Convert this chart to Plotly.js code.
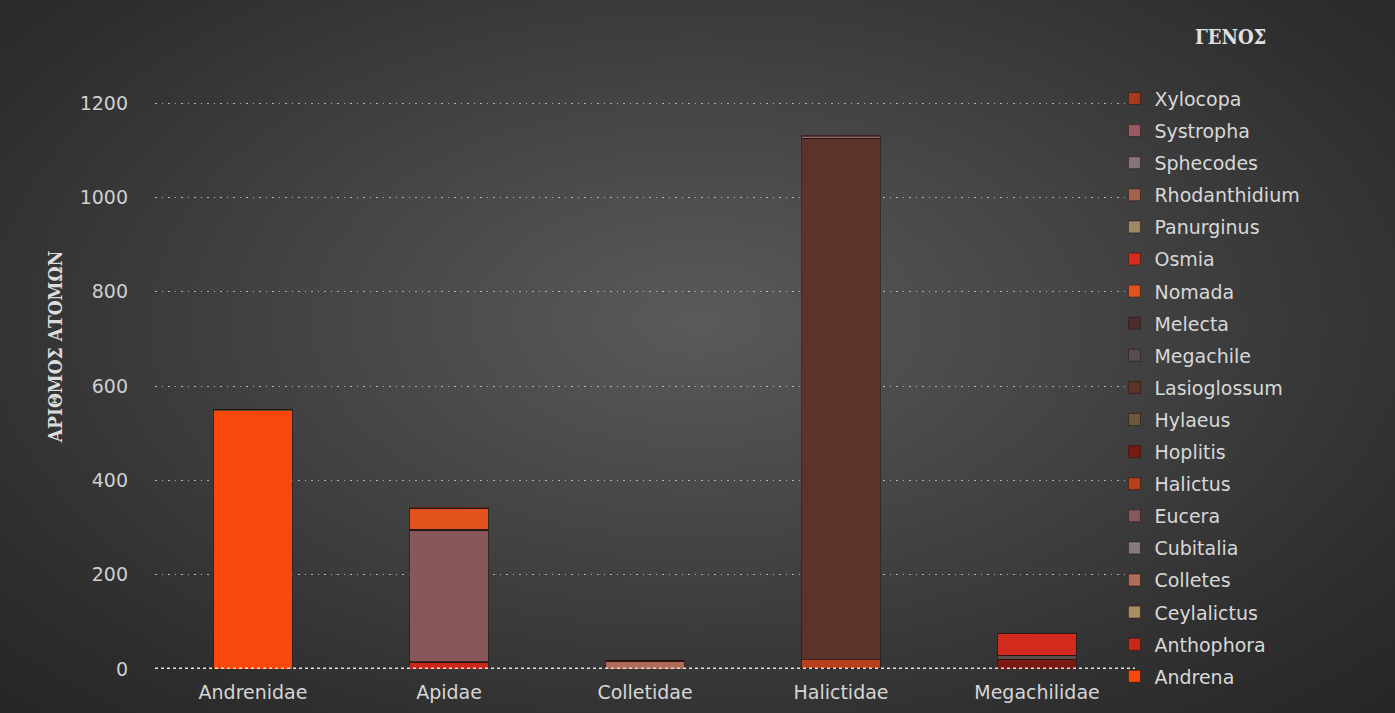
<!DOCTYPE html>
<html>
<head>
<meta charset="utf-8">
<script src="https://cdn.plot.ly/plotly-3.0.1.min.js"></script>
<style>
html,body{margin:0;padding:0;}
#chart{width:1395px;height:713px;background:radial-gradient(ellipse at 50% 45%, #5a5a5a 0%, #444 40%, #2e2e2e 80%, #262626 100%);}
</style>
</head>
<body>
<div id="chart"></div>
<script>
const families = ["Andrenidae","Apidae","Colletidae","Halictidae","Megachilidae"];

const genera = ["Andrena","Anthophora","Ceylalictus","Colletes","Cubitalia","Eucera","Halictus","Hoplitis","Hylaeus","Lasioglossum","Megachile","Melecta","Nomada","Osmia","Panurginus","Rhodanthidium","Sphecodes","Systropha","Xylocopa"];

// values per family: Andrenidae, Apidae, Colletidae, Halictidae, Megachilidae
const Andrena       = [548, 0, 0, 0, 0];
const Anthophora    = [0, 14, 0, 0, 0];
const Ceylalictus   = [0, 0, 0, 2, 0];
const Colletes      = [0, 0, 16, 0, 0];
const Cubitalia     = [0, 2, 0, 0, 0];
const Eucera        = [0, 278, 0, 0, 0];
const Halictus      = [0, 0, 0, 18, 0];
const Hoplitis      = [0, 0, 0, 0, 21];
const Hylaeus       = [0, 0, 3, 0, 0];
const Lasioglossum  = [0, 0, 0, 1106, 0];
const Megachile     = [0, 0, 0, 0, 8];
const Melecta       = [0, 2, 0, 0, 0];
const Nomada        = [0, 45, 0, 0, 0];
const Osmia         = [0, 0, 0, 0, 46];
const Panurginus    = [2, 0, 0, 0, 0];
const Rhodanthidium = [0, 0, 0, 0, 1];
const Sphecodes     = [0, 0, 0, 3, 0];
const Systropha     = [0, 0, 0, 3, 0];
const Xylocopa      = [0, 2, 0, 0, 0];

const values = [Andrena,Anthophora,Ceylalictus,Colletes,Cubitalia,Eucera,Halictus,Hoplitis,Hylaeus,Lasioglossum,Megachile,Melecta,Nomada,Osmia,Panurginus,Rhodanthidium,Sphecodes,Systropha,Xylocopa];

const colors = ["#f8480c","#c8281c","#a68e62","#b06c5a","#877a7e","#875759","#b5401b","#7a1812","#6b5a3a","#5b3328","#5a4b4e","#4d2d2b","#e0531d","#d32b1e","#9c8a66","#a3634f","#857478","#9a5a62","#a63a1e"];

const traces = genera.map((g, i) => ({
  type: 'bar',
  name: g,
  x: families,
  y: values[i],
  legendgroup: g,
  legendrank: 1000 - i,
  marker: {color: colors[i], line: {color: 'rgba(40,20,15,0.55)', width: 1}},
  hoverinfo: 'x+y+name'
}));

const layout = {
  width: 1395, height: 713,
  paper_bgcolor: 'rgba(0,0,0,0)',
  plot_bgcolor: 'rgba(0,0,0,0)',
  barmode: 'stack',
  bargap: 0.6,
  margin: {l: 155, r: 260, t: 56, b: 44},
  font: {family: 'DejaVu Sans, sans-serif', color: '#d0d0d0'},
  xaxis: {
    showgrid: false, zeroline: false, showline: false,
    tickfont: {size: 19, color: '#d6d6d6'},
    ticks: '', ticklabelstandoff: 10
  },
  yaxis: {
    range: [0, 1300],
    tickvals: [0,200,400,600,800,1000,1200],
    tickfont: {size: 19, color: '#cfcfcf'},
    showgrid: true, gridcolor: 'rgba(210,210,210,0.8)', griddash: '1.5px,5px', gridwidth: 1,
    zeroline: false, showline: false, ticks: '',
    ticklabelstandoff: 26
  },
  legend: {
    x: 0.979, xanchor: 'left', y: 0.9614, yanchor: 'top',
    traceorder: 'grouped',
    tracegroupgap: 4.4,
    itemwidth: 30,
    font: {size: 19, color: '#d8d8d8', family: 'DejaVu Sans, sans-serif'},
    bgcolor: 'rgba(0,0,0,0)'
  },
  shapes: [{
    type: 'line', xref: 'paper', yref: 'y', x0: 0, x1: 1, y0: 0, y1: 0,
    line: {color: '#e0e0e0', width: 3, dash: 'dot'}
  }],
  annotations: [{
    text: '<b>ΓΕΝΟΣ</b>', xref: 'paper', yref: 'paper',
    x: 1.097, y: 1.031, xanchor: 'center', yanchor: 'middle', showarrow: false,
    font: {family: 'DejaVu Serif Condensed, DejaVu Serif, serif', size: 20, color: '#e0e0e0'}
  }, {
    text: '<b>ΑΡΙΘΜΟΣ ΑΤΟΜΩΝ</b>', xref: 'paper', yref: 'paper',
    x: -0.102, y: 0.525, xanchor: 'center', yanchor: 'middle', showarrow: false, textangle: -90,
    font: {family: 'DejaVu Serif Condensed, DejaVu Serif, serif', size: 19, color: '#dcdcdc'}
  }]
};

Plotly.newPlot('chart', traces, layout, {displayModeBar: false, staticPlot: true});
</script>
</body>
</html>
